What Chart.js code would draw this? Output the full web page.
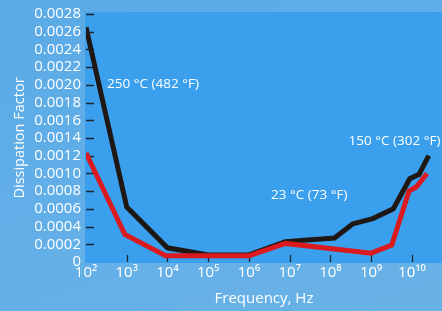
<!DOCTYPE html>
<html>
<head>
<meta charset="utf-8">
<script src="https://cdn.jsdelivr.net/npm/chart.js@4.4.1/dist/chart.umd.min.js"></script>
<style>
  html, body { margin: 0; padding: 0; }
  body {
    width: 442px; height: 311px; overflow: hidden;
    background: linear-gradient(160deg, #5aaae6 0%, #62afe8 50%, #6ab2e6 100%);
  }
  #wrap { position: relative; width: 442px; height: 311px; }
</style>
</head>
<body>
<div id="wrap"><canvas id="chart" width="442" height="311"></canvas></div>
<script>
// tick labels
var decades = [2, 3, 4, 5, 6, 7, 8, 9, 10];
var decadeLabels = ['10\u00b2', '10\u00b3', '10\u2074', '10\u2075', '10\u2076', '10\u2077', '10\u2078', '10\u2079', '10\u00b9\u2070'];

// 250 °C series (black)
var hotFreq = [1e2, 1e3, 1e4, 1e5, 1e6, 7.9e6, 1.26e8, 3.5e8, 1.1e9, 3.5e9, 8.9e9, 1.5e10, 2.6e10];
var hotDf = [0.00265, 0.00062, 0.00016, 0.00008, 0.00008, 0.00023, 0.00027, 0.00043, 0.00049, 0.0006, 0.00094, 0.00099, 0.0012];

// 23 °C series (red)
var roomFreq = [1e2, 9e2, 9e3, 1e6, 7.9e6, 1e9, 3.2e9, 8.5e9, 1.3e10, 2.35e10];
var roomDf = [0.00123, 0.00031, 0.00007, 0.00007, 0.00021, 0.0001, 0.00019, 0.0008, 0.00085, 0.001];

// annotations: [text, freq, value]
var notes = [
  ['250 \u00b0C (482 \u00b0F)', 3.3e2, 0.00201],
  ['23 \u00b0C (73 \u00b0F)', 3.5e6, 0.00076],
  ['150 \u00b0C (302 \u00b0F)', 2.8e8, 0.00137]
];

function pts(xs, ys) {
  return xs.map(function (x, i) { return { x: x, y: ys[i] }; });
}

var font = '"Open Sans", "Noto Sans", sans-serif';

var decor = {
  id: 'decor',
  beforeDatasetsDraw: function (chart) {
    var ctx = chart.ctx, a = chart.chartArea;
    var xs = chart.scales.x, ys = chart.scales.y;
    ctx.save();
    ctx.fillStyle = '#3aa0ee';
    ctx.fillRect(a.left - 1, a.top - 2, a.right - a.left + 2, a.bottom - a.top + 3);
    // inside tick marks
    ctx.strokeStyle = '#1d2630';
    ctx.lineWidth = 1.3;
    ctx.beginPath();
    ys.ticks.forEach(function (t) {
      if (t.value === 0) return;
      var y = Math.round(ys.getPixelForValue(t.value)) + 0.5;
      ctx.moveTo(a.left, y); ctx.lineTo(a.left + 8, y);
    });
    decades.forEach(function (d) {
      if (d === 2) return;
      var x = Math.round(xs.getPixelForValue(Math.pow(10, d))) + 0.5;
      ctx.moveTo(x, a.bottom); ctx.lineTo(x, a.bottom - 7);
    });
    ctx.stroke();
    ctx.restore();
  },
  afterDatasetsDraw: function (chart) {
    var ctx = chart.ctx;
    var xs = chart.scales.x, ys = chart.scales.y;
    ctx.save();
    ctx.fillStyle = '#ffffff';
    ctx.font = '13.5px ' + font;
    ctx.textBaseline = 'middle';
    notes.forEach(function (n) {
      ctx.fillText(n[0], xs.getPixelForValue(n[1]), ys.getPixelForValue(n[2]));
    });
    ctx.restore();
  }
};

new Chart(document.getElementById('chart'), {
  type: 'line',
  data: {
    datasets: [
      {
        label: '23 \u00b0C',
        data: pts(roomFreq, roomDf),
        borderColor: '#da1a1f',
        borderWidth: 5,
        pointRadius: 0,
        tension: 0,
        order: 0
      },
      {
        label: '250 \u00b0C',
        data: pts(hotFreq, hotDf),
        borderColor: '#1e1714',
        borderWidth: 5,
        pointRadius: 0,
        tension: 0,
        order: 1
      }
    ]
  },
  options: {
    responsive: false,
    animation: false,
    layout: { padding: { top: 14, right: 0, bottom: 3, left: 11 } },
    plugins: {
      legend: { display: false },
      tooltip: { enabled: false }
    },
    scales: {
      x: {
        type: 'logarithmic',
        min: 100,
        max: Math.pow(10, 10.74),
        afterBuildTicks: function (s) {
          s.ticks = decades.map(function (d) { return { value: Math.pow(10, d) }; });
        },
        grid: { display: false, drawTicks: false },
        border: { display: false },
        ticks: {
          color: '#ffffff',
          font: { size: 15, family: font },
          padding: 2,
          maxRotation: 0,
          autoSkip: false,
          callback: function (v) {
            var i = decades.indexOf(Math.round(Math.log10(v)));
            return i >= 0 ? decadeLabels[i] : '';
          }
        },
        title: {
          display: true,
          text: 'Frequency, Hz',
          color: '#ffffff',
          font: { size: 15, family: font },
          padding: { top: 6, bottom: 0 }
        }
      },
      y: {
        min: 0,
        max: 0.0028,
        grid: { display: false, drawTicks: false },
        border: { display: false },
        afterFit: function (s) { s.width = 75; },
        ticks: {
          stepSize: 0.0002,
          autoSkip: false,
          color: '#ffffff',
          font: { size: 15, family: font },
          padding: 5,
          callback: function (v) { return v === 0 ? '0' : v.toFixed(4); }
        },
        title: {
          display: true,
          text: 'Dissipation Factor',
          color: '#ffffff',
          font: { size: 14.5, family: font },
          padding: { top: 0, bottom: 0 }
        }
      }
    }
  },
  plugins: [decor]
});
</script>
</body>
</html>
